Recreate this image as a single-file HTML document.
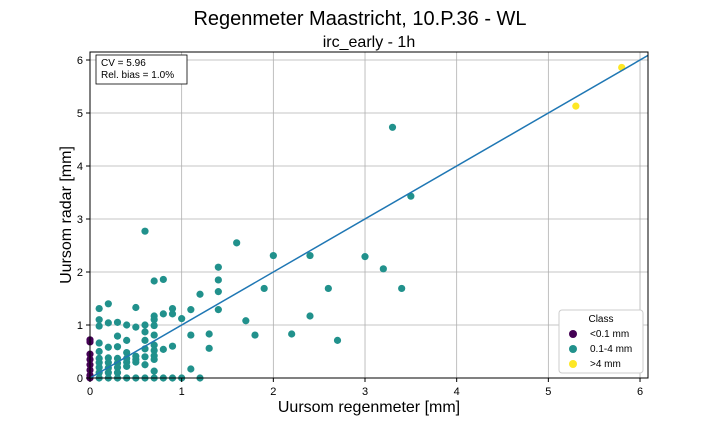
<!DOCTYPE html>
<html><head><meta charset="utf-8"><style>
body{margin:0;background:#fff;font-family:"Liberation Sans",sans-serif;}
svg text{font-family:"Liberation Sans",sans-serif;}
</style></head><body>
<svg id="c" width="720" height="432" xmlns="http://www.w3.org/2000/svg">
<text x="360" y="25" font-size="20" text-anchor="middle">Regenmeter Maastricht, 10.P.36 - WL</text>
<text x="369" y="47" font-size="16" text-anchor="middle">irc_early - 1h</text>
<g id="grid"></g><g id="pts"></g><g id="axes"></g>
<text x="369" y="412" font-size="16" text-anchor="middle">Uursom regenmeter [mm]</text>
<text transform="translate(71,215) rotate(-90)" font-size="16" text-anchor="middle">Uursom radar [mm]</text>
<g>
<rect x="96" y="55" width="91" height="29" fill="#fff" stroke="#000" stroke-width="0.8"/>
<text x="101" y="66" font-size="10">CV = 5.96</text>
<text x="101" y="78" font-size="10">Rel. bias = 1.0%</text>
</g>
<g>
<rect x="559" y="310" width="84" height="63" rx="3" fill="#fff" stroke="#ccc"/>
<text x="601" y="322" font-size="10" text-anchor="middle">Class</text>
<circle cx="573" cy="334" r="4" fill="#440154"/><text x="590" y="337" font-size="10">&lt;0.1 mm</text>
<circle cx="573" cy="349" r="4" fill="#21918c"/><text x="590" y="352" font-size="10">0.1-4 mm</text>
<circle cx="573" cy="364" r="4" fill="#fde725"/><text x="590" y="367" font-size="10">&gt;4 mm</text>
</g>
</svg>
<script>
const xTicks=[0,1,2,3,4,5,6];
const yTicks=[0,1,2,3,4,5,6];
const gaugeVals=[5.3,5.8,3.3,3.5,3.0,3.2,3.4,2.6,2.7,2.4,2.4,2.2,2.0,1.9,1.8,1.7,1.6,1.4,1.4,1.4,1.4,1.3,1.3,1.2,1.2,1.1,1.1,1.1,1.0,1.0,0.9,0.9,0.9,0.9,0.8,0.8,0.8,0.8,0.7,0.7,0.7,0.7,0.7,0.7,0.7,0.7,0.7,0.7,0.7,0.6,0.6,0.6,0.6,0.6,0.6,0.6,0.6,0.5,0.5,0.5,0.5,0.5,0.5,0.4,0.4,0.4,0.4,0.4,0.4,0.4,0.3,0.3,0.3,0.3,0.3,0.3,0.3,0.3,0.2,0.2,0.2,0.2,0.2,0.2,0.2,0.2,0.1,0.1,0.1,0.1,0.1,0.1,0.1,0.1,0.1,0.1,0,0,0,0,0,0,0,0];
const radarVals=[5.13,5.86,4.73,3.43,2.29,2.06,1.69,1.69,0.71,2.31,1.17,0.83,2.31,1.69,0.81,1.08,2.55,2.09,1.85,1.63,1.29,0.83,0.56,1.58,0.0,1.29,0.81,0.17,1.12,0.0,1.31,1.21,0.60,0.0,1.86,1.21,0.54,0.0,1.83,1.17,1.10,0.99,0.81,0.62,0.52,0.42,0.35,0.13,0.0,2.77,1.0,0.87,0.71,0.55,0.40,0.25,0.0,1.33,0.96,0.41,0.35,0.30,0.0,1.0,0.71,0.48,0.37,0.30,0.22,0.0,1.05,0.79,0.59,0.37,0.28,0.20,0.10,0.0,1.40,1.04,0.58,0.38,0.29,0.19,0.10,0.0,1.31,1.10,0.98,0.66,0.50,0.37,0.29,0.20,0.10,0.0,0.72,0.68,0.45,0.35,0.25,0.15,0.05,0.0];
const L=90,R=648,T=52,B=378;
const sx=v=>L+v*91.67, sy=v=>B-v*53;
const NS="http://www.w3.org/2000/svg";
function mk(t,a,p){const e=document.createElementNS(NS,t);for(const k in a)e.setAttribute(k,a[k]);p.appendChild(e);return e;}
const grid=document.getElementById('grid'),axes=document.getElementById('axes'),pts=document.getElementById('pts');
xTicks.forEach(t=>{const x=sx(t);
const g=mk('line',{x1:x,x2:x,y1:T,y2:B,stroke:'#b0b0b0','stroke-width':0.8},grid);


mk('line',{x1:x,x2:x,y1:B,y2:B+4,stroke:'#000'},axes);
const tx=mk('text',{x:x,y:B+17,'font-size':11,'text-anchor':'middle'},axes);tx.textContent=t;

});
yTicks.forEach(t=>{const y=sy(t);
const g=mk('line',{x1:L,x2:R,y1:y,y2:y,stroke:'#b0b0b0','stroke-width':0.8},grid);


mk('line',{x1:L-4,x2:L,y1:y,y2:y,stroke:'#000'},axes);
const tx=mk('text',{x:L-7,y:y+4,'font-size':11,'text-anchor':'end'},axes);tx.textContent=t;

});
const fr=mk('rect',{x:L,y:T,width:R-L,height:B-T,fill:'none',stroke:'#000','stroke-width':1},axes);


gaugeVals.forEach((g,i)=>{const r=radarVals[i];const col=g<0.1?'#440154':(g>4?'#fde725':'#21918c');
const c=mk('circle',{cx:sx(g),cy:sy(r),r:3.6,fill:col},pts);

});
const ln=mk('line',{x1:sx(0),y1:sy(0),x2:R,y2:sy((R-L)/91.67),stroke:'#1f77b4','stroke-width':1.5},pts);


</script>
</body></html>
